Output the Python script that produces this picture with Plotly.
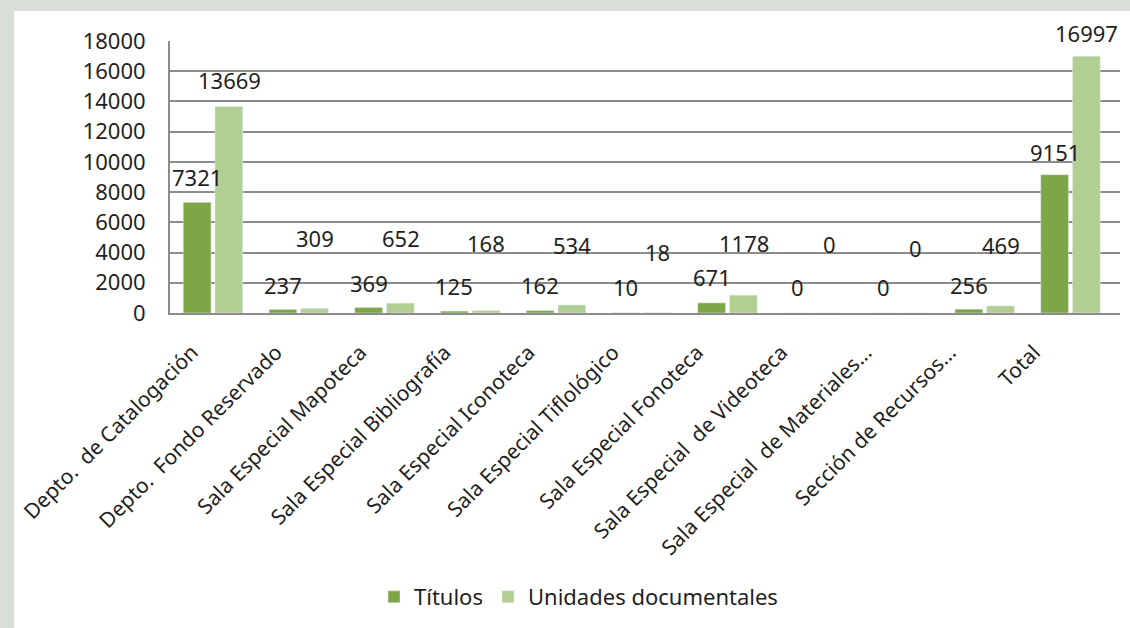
import plotly.graph_objects as go

categories = [
    "Depto.  de Catalogación",
    "Depto.  Fondo Reservado",
    "Sala Especial Mapoteca",
    "Sala Especial Bibliografía",
    "Sala Especial Iconoteca",
    "Sala Especial Tiflológico",
    "Sala Especial Fonoteca",
    "Sala Especial  de Videoteca",
    "Sala Especial  de Materiales...",
    "Sección de Recursos...",
    "Total",
]
titulos = [7321, 237, 369, 125, 162, 10, 671, 0, 0, 256, 9151]
unidades = [13669, 309, 652, 168, 534, 18, 1178, 0, 0, 469, 16997]

# label anchor heights (axis units), as placed in the original chart
titulos_label_y = [9000, 1860, 1990, 1790, 1860, 1700, 2400, 1700, 1700, 1860, 10670]
unidades_label_y = [15440, 4970, 4970, 4600, 4500, 4040, 4600, 4570, 4300, 4500, 18550]

Y_MAX = 18000
PLOT_H = 272  # px height of plot area
dark = "#7EA546"
light = "#B2CF93"
bg_gray = "#D8DED8"
font_family = "Noto Sans, Open Sans, sans-serif"
text_color = "#1f1f1f"

fig = go.Figure()
fig.add_trace(go.Bar(x=categories, y=titulos, name="Títulos", marker_color=dark))
fig.add_trace(go.Bar(x=categories, y=unidades, name="Unidades documentales", marker_color=light))
# carrier for the category-label axis (labels in the original are slightly compressed)
fig.add_trace(go.Scatter(x=categories, y=[None] * len(categories), xaxis="x2",
                         showlegend=False, hoverinfo="skip", mode="markers"))


def label(c, ypos, val, xs):
    yshift = 0
    if ypos > Y_MAX:
        yshift = (ypos - Y_MAX) * PLOT_H / Y_MAX
        ypos = Y_MAX
    return dict(x=c, y=ypos, text=str(val), showarrow=False, xshift=xs, yshift=yshift,
                font=dict(size=22, color=text_color, family=font_family))


annotations = []
for i, c in enumerate(categories):
    annotations.append(label(c, titulos_label_y[i], titulos[i], -16))
    annotations.append(label(c, unidades_label_y[i], unidades[i], 16))

fig.update_layout(
    width=1130, height=628,
    margin=dict(l=170, r=10, t=41, b=315, autoexpand=False),
    paper_bgcolor=bg_gray,
    plot_bgcolor="rgba(0,0,0,0)",
    barmode="group",
    bargap=0.26,
    bargroupgap=0.125,
    font=dict(family=font_family, size=22, color=text_color),
    showlegend=True,
    legend=dict(orientation="h", x=0.43, xanchor="center", y=-1.044, yanchor="middle",
                font=dict(size=22, color=text_color), bgcolor="rgba(0,0,0,0)",
                traceorder="normal", itemwidth=30),
    annotations=annotations,
    shapes=[dict(type="rect", xref="paper", yref="paper",
                 x0=-0.1642, x1=1.02, y0=-1.2, y1=1.110,
                 fillcolor="white", line=dict(width=0), layer="below")],
    xaxis=dict(showline=True, linecolor="#8C8C8C", linewidth=2, showticklabels=False,
               categoryorder="array", categoryarray=categories),
    xaxis2=dict(overlaying="x", anchor="y", side="bottom", type="category",
                categoryorder="array", categoryarray=categories,
                range=[-0.26, 11.02], showgrid=False, showline=False, zeroline=False,
                tickangle=-45, tickfont=dict(size=21, color=text_color),
                ticklabelstandoff=22),
)
fig.update_yaxes(
    range=[0, Y_MAX], dtick=2000, tickformat="d",
    showgrid=True, gridcolor="#8C8C8C", gridwidth=2,
    showline=True, linecolor="#8C8C8C", linewidth=2,
    zeroline=False, ticklabelstandoff=18,
    tickfont=dict(size=22, color=text_color),
)

fig.write_html(
    "out.html",
    config={"displayModeBar": False},
    post_script="document.body.style.margin='0';document.body.style.background='" + bg_gray + "';",
)
